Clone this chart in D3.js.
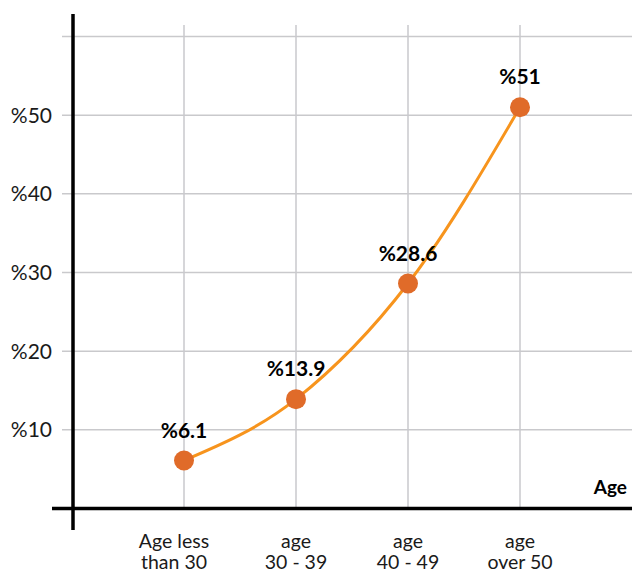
<!DOCTYPE html>
<html>
<head>
<meta charset="utf-8">
<script src="https://cdn.jsdelivr.net/npm/d3@7"></script>
<style>
  html, body { margin: 0; padding: 0; background: #fff; }
  svg { display: block; font-family: Lato, "Open Sans", sans-serif; }
</style>
</head>
<body>
<svg id="chart" width="632" height="572"></svg>
<script>
const categories = ["Age less|than 30", "age|30 - 39", "age|40 - 49", "age|over 50"];
const values = [6.1, 13.9, 28.6, 51];
const valueLabels = ["%6.1", "%13.9", "%28.6", "%51"];
const yTicks = [10, 20, 30, 40, 50];
const yTickLabels = ["%10", "%20", "%30", "%40", "%50"];
const xTitle = "Age";

const svg = d3.select("#chart");
const W = 632;

const x = d3.scalePoint().domain(categories).range([72, 632]).padding(1);
const y = d3.scaleLinear().domain([0, 60]).range([508.5, 36.5]);

const grid = svg.append("g");
grid.selectAll("line.h").data(yTicks.concat([60])).join("line")
  .attr("x1", 62).attr("x2", W)
  .attr("y1", d => y(d)).attr("y2", d => y(d))
  .attr("stroke", "#c9c9cc").attr("stroke-width", 1.5);
grid.selectAll("line.v").data(categories).join("line")
  .attr("x1", d => x(d)).attr("x2", d => x(d))
  .attr("y1", 25).attr("y2", y(0))
  .attr("stroke", "#c9c9cc").attr("stroke-width", 1.5);

svg.append("g").selectAll("text").data(yTicks).join("text")
  .attr("x", 52).attr("y", d => y(d))
  .attr("dy", "0.36em")
  .attr("text-anchor", "end")
  .attr("font-size", 21).attr("font-weight", 400)
  .attr("fill", "#1a1a1a")
  .text((d, i) => yTickLabels[i]);

const xl = svg.append("g").selectAll("text").data(categories).join("text")
  .attr("text-anchor", "middle")
  .attr("font-size", 19.5).attr("font-weight", 400)
  .attr("fill", "#1a1a1a");
xl.each(function(d, j) {
  const parts = d.split("|");
  const t = d3.select(this);
  parts.forEach((p, i) => {
    t.append("tspan").attr("x", x(d) - (j === 0 ? 10 : 0)).attr("y", 548 + i * 21).text(p);
  });
});

svg.append("line").attr("x1", 73).attr("x2", 73).attr("y1", 14).attr("y2", 530)
  .attr("stroke", "#000").attr("stroke-width", 3.5);
svg.append("line").attr("x1", 52).attr("x2", W).attr("y1", y(0)).attr("y2", y(0))
  .attr("stroke", "#000").attr("stroke-width", 3.5);

svg.append("text").attr("x", 627).attr("y", 494)
  .attr("text-anchor", "end").attr("font-size", 19).attr("font-weight", 700)
  .attr("fill", "#000").text(xTitle);

const line = d3.line().x((d, i) => x(categories[i])).y(d => y(d)).curve(d3.curveMonotoneX);
svg.append("path").datum(values).attr("d", line)
  .attr("fill", "none").attr("stroke", "#f7941d").attr("stroke-width", 3);

svg.append("g").selectAll("circle").data(values).join("circle")
  .attr("cx", (d, i) => x(categories[i])).attr("cy", d => y(d))
  .attr("r", 10).attr("fill", "#e06b29");

svg.append("g").selectAll("text").data(values).join("text")
  .attr("x", (d, i) => x(categories[i])).attr("y", d => y(d) - 23)
  .attr("text-anchor", "middle").attr("font-size", 21).attr("font-weight", 700)
  .attr("fill", "#000")
  .text((d, i) => valueLabels[i]);
</script>
</body>
</html>
